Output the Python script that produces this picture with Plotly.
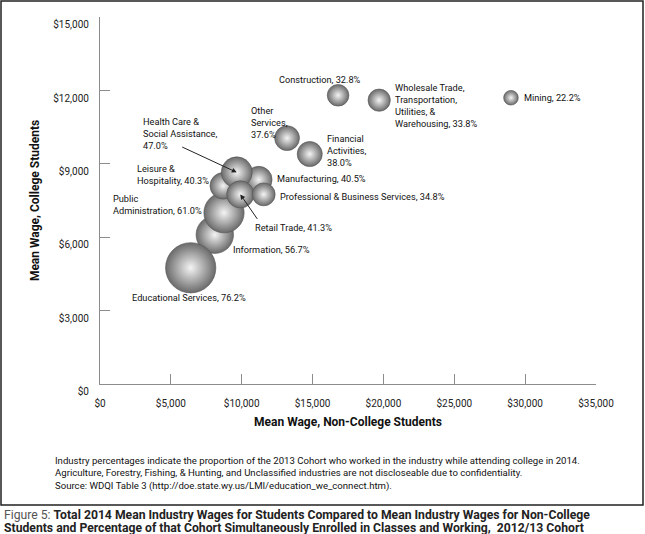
import plotly.graph_objects as go

# ---- data ----
industries = ["Information", "Public Administration", "Leisure & Hospitality", "Manufacturing",
              "Health Care & Social Assistance", "Retail Trade", "Professional & Business Services",
              "Educational Services", "Other Services", "Financial Activities", "Construction",
              "Wholesale Trade, Transportation, Utilities, & Warehousing", "Mining"]
noncollege_wage = [8100, 8750, 8700, 11200, 9650, 9900, 11550, 6400, 13200, 14800, 16800, 19700, 29000]
college_wage = [6100, 7000, 8100, 8350, 8650, 7750, 7750, 4750, 10050, 9400, 11800, 11600, 11700]
pct_enrolled = [56.7, 61.0, 40.3, 40.5, 47.0, 41.3, 34.8, 76.2, 37.6, 38.0, 32.8, 33.8, 22.2]
label_text = ["Information, 56.7%", "Public<br>Administration, 61.0%", "Leisure &<br>Hospitality, 40.3%",
              "Manufacturing, 40.5%", "Health Care &<br>Social Assistance,<br>47.0%", "Retail Trade, 41.3%",
              "Professional & Business Services, 34.8%", "Educational Services, 76.2%",
              "Other<br>Services,<br>37.6%", "Financial<br>Activities,<br>38.0%", "Construction, 32.8%",
              "Wholesale Trade,<br>Transportation,<br>Utilities, &<br>Warehousing, 33.8%", "Mining, 22.2%"]
x_ticks = [0, 5000, 10000, 15000, 20000, 25000, 30000, 35000]
x_tick_labels = ["$0", "$5,000", "$10,000", "$15,000", "$20,000", "$25,000", "$30,000", "$35,000"]
y_ticks = [0, 3000, 6000, 9000, 12000, 15000]
y_tick_labels = ["$0", "$3,000", "$6,000", "$9,000", "$12,000", "$15,000"]

# ---- label placement (pixel offsets from bubble centre) ----
label_style = [
    dict(xanchor="left", yanchor="middle", xshift=16, yshift=-15),
    dict(xanchor="right", yanchor="middle", xshift=-20, yshift=8),
    dict(xanchor="right", yanchor="middle", xshift=-12, yshift=11),
    dict(xanchor="left", yanchor="middle", xshift=16, yshift=1),
    dict(xanchor="left", yanchor="middle", xshift=-96, yshift=39),
    dict(xanchor="left", yanchor="middle", xshift=13, yshift=-33),
    dict(xanchor="left", yanchor="middle", xshift=14, yshift=-2),
    dict(xanchor="center", yanchor="middle", xshift=-2, yshift=-30),
    dict(xanchor="left", yanchor="top", xshift=-38, yshift=35),
    dict(xanchor="left", yanchor="top", xshift=15, yshift=23),
    dict(xanchor="center", yanchor="middle", xshift=-18, yshift=16),
    dict(xanchor="left", yanchor="top", xshift=14, yshift=20),
    dict(xanchor="left", yanchor="middle", xshift=11, yshift=0),
]

W, H = 645, 534
L, R, T, B = 100, 49, 17, 150
PW, PH = W - L - R, H - T - B


def pxx(px):
    return (px - L) / PW


def pxy(py):
    return (H - B - py) / PH


FONT = "Roboto, Liberation Sans, sans-serif"

fig = go.Figure()
fig.add_trace(go.Scatter(
    x=noncollege_wage, y=college_wage, mode="markers",
    text=industries,
    marker=dict(size=pct_enrolled, sizemode="diameter", sizeref=1 / 0.66,
                color="#6a6a6a", gradient=dict(type="radial", color="#f4f4f4"),
                line=dict(color="#555555", width=0.6), opacity=1),
    hoverinfo="text", showlegend=False,
))

annotations = []
for xv, yv, t, st in zip(noncollege_wage, college_wage, label_text, label_style):
    annotations.append(dict(x=xv, y=yv, xref="x", yref="y", text=t, showarrow=False,
                            align="left", font=dict(family=FONT, size=9.2, color="#111"), **st))

# arrows for Health Care and Retail Trade
hc = industries.index("Health Care & Social Assistance")
rt = industries.index("Retail Trade")
annotations.append(dict(x=noncollege_wage[hc], y=college_wage[hc], xref="x", yref="y", text="",
                        showarrow=True, arrowhead=2, arrowsize=1, arrowwidth=1, arrowcolor="#222",
                        ax=-56, ay=-26, standoff=0))
annotations.append(dict(x=noncollege_wage[rt], y=college_wage[rt], xref="x", yref="y", text="",
                        showarrow=True, arrowhead=2, arrowsize=1, arrowwidth=1, arrowcolor="#222",
                        ax=18, ay=26, standoff=0))

# footnote inside the frame
annotations.append(dict(
    x=pxx(53), y=pxy(453), xref="paper", yref="paper", xanchor="left", yanchor="top",
    align="left", showarrow=False,
    text=("Industry percentages indicate the proportion of the 2013 Cohort who worked in the industry while attending college in 2014.<br>"
          "Agriculture, Forestry, Fishing, & Hunting, and Unclassified industries are not discloseable due to confidentiality.<br>"
          "Source: WDQI Table 3 (http://doe.state.wy.us/LMI/education_we_connect.htm)."),
    font=dict(family=FONT, size=9.6, color="#111")))

# caption below the frame (two lines, tighter spacing)
caption_lines = [
    "<span style='color:#555'>Figure 5: </span><b>Total 2014 Mean Industry Wages for Students Compared to Mean Industry Wages for Non-College</b>",
    "<b>Students and Percentage of that Cohort Simultaneously Enrolled in Classes and Working,  2012/13 Cohort</b>",
]
for i, line in enumerate(caption_lines):
    annotations.append(dict(
        x=pxx(2), y=pxy(515 + 13 * i), xref="paper", yref="paper", xanchor="left", yanchor="middle",
        align="left", showarrow=False, text=line,
        font=dict(family=FONT, size=12.2, color="#222")))

shapes = [dict(type="rect", xref="paper", yref="paper",
               x0=pxx(1), x1=pxx(643), y0=pxy(505), y1=pxy(1),
               line=dict(color="#222", width=1.5), fillcolor="rgba(0,0,0,0)", layer="below")]

axis_common = dict(showline=True, linecolor="#8c8c8c", linewidth=1.2, ticks="inside",
                   ticklen=10, tickcolor="#8c8c8c", tickwidth=1.2, showgrid=False, zeroline=False,
                   tickfont=dict(family=FONT, size=10, color="#222"))

fig.update_layout(
    width=W, height=H, margin=dict(l=L, r=R, t=T, b=B, pad=0),
    paper_bgcolor="white", plot_bgcolor="white",
    xaxis=dict(range=[0, 35000], tickmode="array", tickvals=x_ticks, ticktext=x_tick_labels,
               ticklabelstandoff=10,
               title=dict(text="<b>Mean Wage, Non-College Students</b>", standoff=9,
                          font=dict(family=FONT, size=12, color="#111")), **axis_common),
    yaxis=dict(range=[0, 15000], tickmode="array", tickvals=y_ticks, ticktext=y_tick_labels,
               ticklabelstandoff=8, ticklabelposition="outside bottom",
               title=dict(text="<b>Mean Wage, College Students</b>", standoff=10,
                          font=dict(family=FONT, size=12, color="#111")), **axis_common),
    annotations=annotations, shapes=shapes,
)

fig.write_html("out.html", config={"displayModeBar": False},
               post_script="document.body.style.margin='0';document.body.style.overflow='hidden';")
